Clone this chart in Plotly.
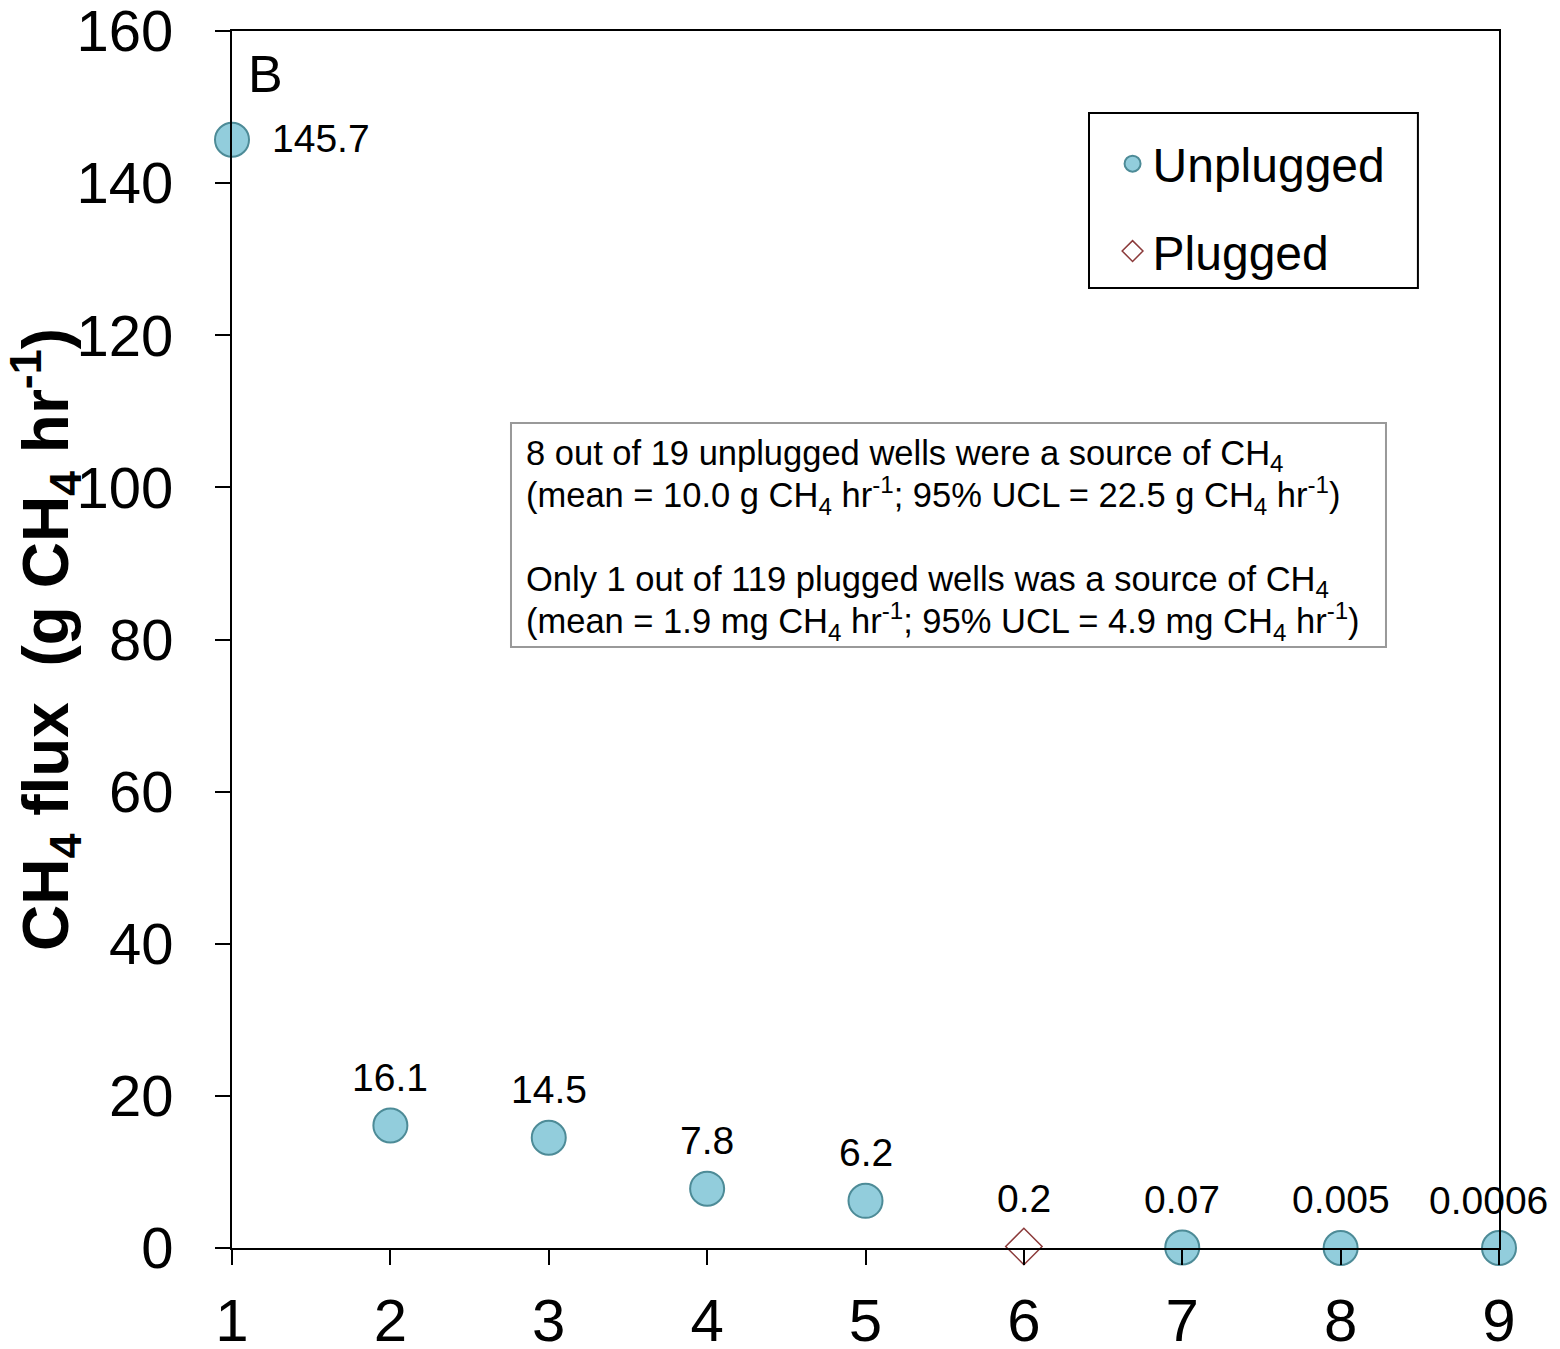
import plotly.graph_objects as go

# Data
unplugged_x = [1, 2, 3, 4, 5, 7, 8, 9]
unplugged_y = [145.7, 16.1, 14.5, 7.8, 6.2, 0.07, 0.005, 0.0006]
unplugged_labels = ["145.7", "16.1", "14.5", "7.8", "6.2", "0.07", "0.005", "0.0006"]
plugged_x = [6]
plugged_y = [0.2]
plugged_labels = ["0.2"]
x_ticks = [1, 2, 3, 4, 5, 6, 7, 8, 9]
y_ticks = [0, 20, 40, 60, 80, 100, 120, 140, 160]

note_lines = [
    "8 out of 19 unplugged wells were a source of CH<sub>4</sub>",
    "(mean = 10.0 g CH<sub>4</sub> hr<sup>-1</sup>; 95% UCL = 22.5 g CH<sub>4</sub> hr<sup>-1</sup>)",
    "Only 1 out of 119 plugged wells was a source of CH<sub>4</sub>",
    "(mean = 1.9 mg CH<sub>4</sub> hr<sup>-1</sup>; 95% UCL = 4.9 mg CH<sub>4</sub> hr<sup>-1</sup>)",
]

FONT = "Liberation Sans, Arial, Helvetica, sans-serif"

fig = go.Figure()
fig.add_trace(go.Scatter(
    x=unplugged_x, y=unplugged_y, mode="markers", name="Unplugged",
    marker=dict(symbol="circle", size=34, color="#92CDDC",
                line=dict(color="#4D8B97", width=2)),
    cliponaxis=False, legendgroup="a",
))
fig.add_trace(go.Scatter(
    x=plugged_x, y=plugged_y, mode="markers", name="Plugged",
    marker=dict(symbol="diamond-open", size=28, color="#8B3A3A",
                line=dict(color="#8B3A3A", width=1.5)),
    cliponaxis=False, legendgroup="b",
))

annotations = []
# value labels, anchored on the data points
all_x = unplugged_x + plugged_x
all_y = unplugged_y + plugged_y
all_lab = unplugged_labels + plugged_labels
for i, (xv, yv, lab) in enumerate(zip(all_x, all_y, all_lab)):
    if i == 0:
        annotations.append(dict(x=xv, y=yv, text=lab, showarrow=False,
                                xanchor="left", yanchor="middle", xshift=38, yshift=1,
                                font=dict(size=39, family=FONT, color="black")))
    else:
        xs = -11 if xv == max(all_x) else 0
        annotations.append(dict(x=xv, y=yv, text=lab, showarrow=False,
                                xanchor="center", yanchor="middle", xshift=xs, yshift=48,
                                font=dict(size=39, family=FONT, color="black")))

annotations.append(dict(text="B", xref="paper", yref="paper", x=0.011, y=0.99,
                        xanchor="left", yanchor="top", showarrow=False,
                        font=dict(size=52, family=FONT, color="black")))

note_y = [0.6510, 0.6180, 0.5480, 0.5150]
for ln, yy in zip(note_lines, note_y):
    annotations.append(dict(text=ln, xref="paper", yref="paper", x=0.2305, y=yy,
                            xanchor="left", yanchor="middle", align="left",
                            showarrow=False,
                            font=dict(size=34.5, family=FONT, color="black")))

fig.update_layout(
    width=1560, height=1349,
    margin=dict(l=232, r=61, t=31, b=101),
    paper_bgcolor="white", plot_bgcolor="white",
    font=dict(family=FONT, color="black"),
    showlegend=True,
    legend=dict(x=0.695, y=0.922, xanchor="left", yanchor="top",
                font=dict(size=48, color="black", family=FONT),
                bgcolor="rgba(0,0,0,0)", borderwidth=0,
                traceorder="grouped", tracegroupgap=22, itemwidth=30),
    xaxis=dict(range=[1, 9], tickvals=x_ticks, ticks="outside", ticklen=15,
               tickwidth=2, tickcolor="black", showline=True, linecolor="black",
               linewidth=2, mirror=True, showgrid=False, zeroline=False,
               tickfont=dict(size=60, family=FONT, color="black"),
               ticklabelstandoff=4, automargin=False, ticklabeloverflow="allow"),
    yaxis=dict(range=[0, 160], tickvals=y_ticks, ticks="outside", ticklen=15,
               tickwidth=2, tickcolor="black", showline=True, linecolor="black",
               linewidth=2, mirror=True, showgrid=False, zeroline=False,
               tickfont=dict(size=58, family=FONT, color="black"),
               ticklabelstandoff=30, automargin=False, ticklabeloverflow="allow",
               title=dict(text="<b>CH<sub>4</sub> flux  (g CH<sub>4</sub> hr<sup>-1</sup>)</b>",
                          font=dict(size=64, family=FONT, color="black"),
                          standoff=20)),
    shapes=[
        dict(type="rect", xref="paper", yref="paper",
             x0=0.6764, x1=0.936, y0=0.7888, y1=0.9326,
             line=dict(color="black", width=2), fillcolor="rgba(0,0,0,0)"),
        dict(type="rect", xref="paper", yref="paper",
             x0=0.2202, x1=0.9108, y0=0.4938, y1=0.6779,
             line=dict(color="#999999", width=2), fillcolor="rgba(0,0,0,0)"),
    ],
    annotations=annotations,
)

fig.write_html("out.html")
